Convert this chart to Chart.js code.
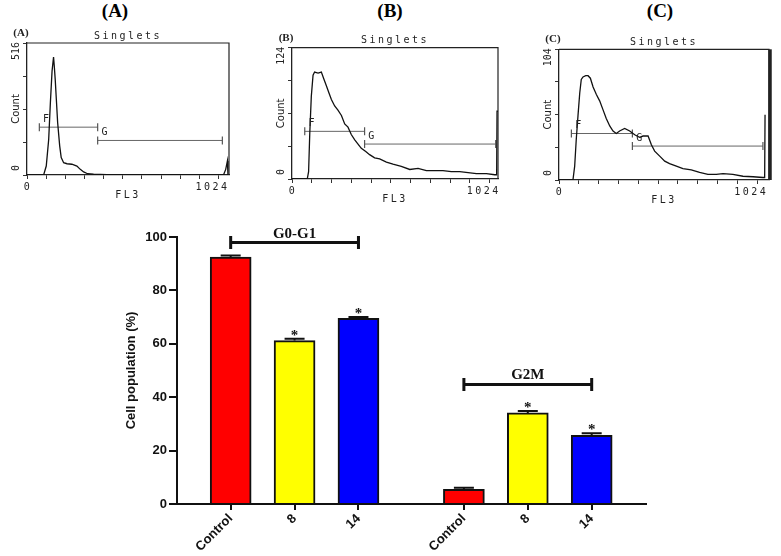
<!DOCTYPE html>
<html>
<head>
<meta charset="utf-8">
<script src="https://cdn.jsdelivr.net/npm/chart.js@4.4.1/dist/chart.umd.min.js"></script>
<style>
  body { margin: 0; background: #fff; width: 781px; height: 556px; position: relative; overflow: hidden; }
  .big { position: absolute; top: 0; font: bold 19px "Liberation Serif", serif; color: #000; transform: translateX(-50%); }
  canvas { position: absolute; }
</style>
</head>
<body>
<div class="big" style="left:115px">(A)</div>
<div class="big" style="left:390px">(B)</div>
<div class="big" style="left:660px">(C)</div>
<canvas id="histA"></canvas>
<canvas id="histB"></canvas>
<canvas id="histC"></canvas>
<canvas id="bars" width="540" height="336" style="left:120px;top:220px"></canvas>
<script>
// ---- histogram data (FL3 channel / count) ----
const histA_ch = [0, 89, 103, 116, 125, 134, 142, 146, 151, 157, 164, 175, 183, 196, 214, 240, 267, 285, 303, 324, 356, 427, 450, 1051, 1063, 1072, 1075];
const histA_count = [0, 0, 35, 139, 282, 406, 461, 425, 373, 295, 204, 113, 68, 48, 44, 42, 35, 22, 12, 5, 3, 1, 0, 0, 22, 55, 0];
const histB_ch = [0, 79, 86, 92, 100, 109, 117, 135, 152, 164, 178, 192, 204, 221, 238, 256, 273, 290, 307, 325, 342, 359, 382, 402, 428, 454, 489, 523, 566, 610, 653, 696, 739, 782, 825, 869, 912, 955, 1007, 1050, 1060, 1062, 1067];
const histB_count = [0, 0, 7, 43, 78, 98, 101, 100, 101, 95, 88, 81, 75, 69, 65, 60, 52, 49, 42, 37, 33, 29, 26, 23, 20, 19, 16, 14, 12, 9, 10, 8, 8, 8, 7, 7, 6, 5, 5, 4, 4, 64, 64];
const histC_ch = [0, 72, 81, 89, 98, 107, 115, 124, 138, 150, 162, 176, 193, 210, 227, 244, 262, 279, 296, 313, 339, 365, 391, 416, 434, 460, 477, 494, 520, 546, 571, 606, 640, 683, 726, 769, 812, 847, 898, 950, 1002, 1053, 1062, 1064, 1068];
const histC_count = [0, 0, 11, 32, 51, 69, 80, 82, 83, 83, 81, 74, 68, 63, 56, 49, 43, 39, 37, 39, 41, 39, 36, 34, 35, 35, 28, 23, 19, 15, 13, 11, 9, 8, 6, 4.5, 4.5, 5, 4.5, 3, 2.6, 2, 2, 52, 52];
// gates: [from channel, to channel, drawn at count]
const gatesA = [[66, 378, 187], [378, 1045, 135]];
const gatesB = [[66, 376, 45], [376, 1055, 33]];
const gatesC = [[64, 379, 37], [379, 1053, 27]];
const gateNames = ['F', 'G'];
const countMax = [516, 124, 104];
const fl3Ticks = [0, 102.4, 204.8, 307.2, 409.6, 512, 614.4, 716.8, 819.2, 921.6, 1024];

// ---- bar chart data ----
const categories = ['Control', '8', '14'];
const phases = ['G0-G1', 'G2M'];
const g0g1Mean = [92.5, 61.2, 69.5];
const g0g1Err = [0.6, 0.7, 0.5];
const g2mMean = [5.5, 34.1, 25.7];
const g2mErr = [0.6, 0.7, 0.8];
const starred = [false, true, true];
const bracketLevel = [97.9, 44.8];
const barColors = ['#ff0000', '#ffff00', '#0000ff'];

// text drawn round each histogram box
const histText = {
  id: 'histText',
  afterDraw(chart, args, o) {
    const { ctx, chartArea: a, scales: { x, y } } = chart;
    ctx.save();
    ctx.strokeStyle = '#222';
    ctx.lineWidth = 1.2;
    ctx.beginPath();
    ctx.moveTo(a.left, a.top); ctx.lineTo(a.right, a.top); ctx.lineTo(a.right, a.bottom);
    ctx.stroke();
    if (o.thickRight) { ctx.lineWidth = 3.5; ctx.beginPath(); ctx.moveTo(a.right + 1, a.top); ctx.lineTo(a.right + 1, a.bottom); ctx.stroke(); }
    ctx.fillStyle = '#222';
    ctx.textAlign = 'center'; ctx.textBaseline = 'middle';
    ctx.font = 'bold 11px "Liberation Serif"';
    ctx.fillText(o.panel, a.left - 6, a.top - 10);
    ctx.font = '10px "DejaVu Sans Mono"';
    ctx.letterSpacing = '2.5px';
    ctx.fillText('Singlets', (a.left + a.right) / 2, a.top - 7);
    ctx.fillText('0', a.left + 1, a.bottom + 12.5);
    ctx.fillText('1024', x.getPixelForValue(1024) - 6, a.bottom + 12.5);
    ctx.fillText('FL3', (a.left + a.right) / 2, a.bottom + 20);
    // gate names
    o.gates.forEach((g, i) => {
      ctx.fillText(gateNames[i], x.getPixelForValue(g[0]) + 8, y.getPixelForValue(g[2]) - 8);
    });
    // rotated count labels
    ctx.letterSpacing = '0px';
    const rot = (t, py, f) => {
      ctx.save(); ctx.translate(a.left - 11, py); ctx.rotate(-Math.PI / 2);
      ctx.font = f; ctx.fillText(t, 0, 0); ctx.restore();
    };
    rot(String(o.max), a.top + 8, '10px "DejaVu Sans Mono"');
    rot('Count', (a.top + a.bottom) / 2, '10px "DejaVu Sans"');
    rot('0', a.bottom - 7, '10px "DejaVu Sans Mono"');
    ctx.restore();
  }
};

function drawHist(id, box, tickSpacing, ch, counts, gates, max, panel, thickRight) {
  const cv = document.getElementById(id);
  const padL = 30, padT = box.top - 20, padB = 30;
  cv.width = padL + (box.right - box.left) + 15;
  cv.height = padT + (box.bottom - box.top) + padB;
  cv.style.left = (box.left - padL) + 'px';
  cv.style.top = '20px';
  const xMax = 102.4 * (box.right - box.left) / tickSpacing;
  const datasets = [{
    data: ch.map((c, i) => ({ x: c, y: counts[i] })),
    borderColor: '#111', borderWidth: 1.3, pointRadius: 0, tension: 0
  }];
  gates.forEach(g => datasets.push({
    data: [{ x: g[0], y: g[2] }, { x: g[1], y: g[2] }],
    borderColor: '#666', borderWidth: 1, pointStyle: 'line', pointRotation: 90,
    pointRadius: 4, pointBorderColor: '#555', pointBorderWidth: 1.2
  }));
  new Chart(cv, {
    type: 'line',
    data: { datasets },
    options: {
      responsive: false, animation: false,
      layout: { padding: { top: padT, right: 15, left: 0, bottom: 0 } },
      plugins: { legend: { display: false }, tooltip: { enabled: false }, histText: { panel, max, gates, thickRight } },
      scales: {
        x: {
          type: 'linear', min: 0, max: xMax,
          afterBuildTicks: s => { s.ticks = fl3Ticks.map(v => ({ value: v })); },
          afterFit: s => { s.height = padB; },
          ticks: { display: false },
          grid: { drawOnChartArea: false, tickLength: 4, color: '#333', lineWidth: 1 },
          border: { color: '#222', width: 1.3 }
        },
        y: {
          min: 0, max,
          afterBuildTicks: s => { s.ticks = [0, 0.25, 0.5, 0.75, 1].map(f => ({ value: f * max })); },
          afterFit: s => { s.width = padL; },
          ticks: { display: false },
          grid: { drawOnChartArea: false, tickLength: 4, color: '#333', lineWidth: 1 },
          border: { color: '#222', width: 1.3 }
        }
      }
    },
    plugins: [histText]
  });
}

drawHist('histA', { left: 26.7, top: 43, right: 229.3, bottom: 175.7 }, 19.2, histA_ch, histA_count, gatesA, countMax[0], '(A)', false);
drawHist('histB', { left: 292.3, top: 47.7, right: 498.3, bottom: 179 }, 19.77, histB_ch, histB_count, gatesB, countMax[1], '(B)', false);
drawHist('histC', { left: 559.3, top: 49.3, right: 769.3, bottom: 180.7 }, 19.83, histC_ch, histC_count, gatesC, countMax[2], '(C)', true);

// ---- bar chart ----
const groupStart = [0.84, 4.49];
const xEnd = 7.34;
const means = [g0g1Mean, g2mMean];
const errs = [g0g1Err, g2mErr];
const barPts = [], barFill = [], tickPos = [];
means.forEach((m, g) => m.forEach((v, i) => {
  barPts.push({ x: groupStart[g] + i, y: v });
  barFill.push(barColors[i]);
  tickPos.push(groupStart[g] + i);
}));

const annot = {
  id: 'annot',
  afterDatasetsDraw(chart) {
    const { ctx, scales: { x, y } } = chart;
    ctx.save();
    ctx.strokeStyle = '#111'; ctx.fillStyle = '#111';
    ctx.textAlign = 'center';
    means.forEach((m, g) => {
      m.forEach((v, i) => {
        const px = x.getPixelForValue(groupStart[g] + i);
        const top = y.getPixelForValue(v + errs[g][i]);
        ctx.lineWidth = 2;
        ctx.beginPath();
        ctx.moveTo(px, y.getPixelForValue(v)); ctx.lineTo(px, top);
        ctx.moveTo(px - 10, top); ctx.lineTo(px + 10, top);
        ctx.stroke();
        if (starred[i]) {
          ctx.font = 'bold 15px "Liberation Serif"';
          ctx.textBaseline = 'alphabetic';
          ctx.fillText('*', px, top + 1);
        }
      });
      const a = x.getPixelForValue(groupStart[g]);
      const b = x.getPixelForValue(groupStart[g] + 2);
      const by = y.getPixelForValue(bracketLevel[g]);
      ctx.lineWidth = 3;
      ctx.beginPath();
      ctx.moveTo(a, by); ctx.lineTo(b, by);
      ctx.moveTo(a, by - 6.5); ctx.lineTo(a, by + 6.5);
      ctx.moveTo(b, by - 6.5); ctx.lineTo(b, by + 6.5);
      ctx.stroke();
      ctx.font = 'bold 15px "Liberation Serif"';
      ctx.textBaseline = 'alphabetic';
      ctx.fillText(phases[g], (a + b) / 2, by - 5);
    });
    ctx.restore();
  }
};

new Chart(document.getElementById('bars'), {
  type: 'bar',
  data: {
    datasets: [{
      data: barPts,
      backgroundColor: barFill,
      borderColor: '#111',
      borderWidth: 2,
      barThickness: 41,
      borderSkipped: 'bottom'
    }]
  },
  options: {
    responsive: false, animation: false,
    layout: { padding: { top: 17, right: 14, left: 0, bottom: 0 } },
    plugins: { legend: { display: false }, tooltip: { enabled: false } },
    scales: {
      x: {
        type: 'linear', min: 0, max: xEnd, offset: false,
        afterBuildTicks: s => { s.ticks = tickPos.map(v => ({ value: v })); },
        afterFit: s => { s.height = 52; },
        ticks: {
          autoSkip: false, minRotation: 45, maxRotation: 45, padding: 1, color: '#111',
          font: { family: 'Liberation Sans', size: 13, weight: 'bold' },
          callback: (v, i) => categories[i % 3]
        },
        grid: { offset: false, drawOnChartArea: false, tickLength: 6, color: '#111', lineWidth: 2 },
        border: { color: '#111', width: 2 }
      },
      y: {
        min: 0, max: 100,
        afterFit: s => { s.width = 57; },
        ticks: { stepSize: 20, padding: 2, color: '#111', font: { family: 'Liberation Sans', size: 13, weight: 'bold' } },
        grid: { drawOnChartArea: false, tickLength: 8, color: '#111', lineWidth: 2 },
        border: { color: '#111', width: 2 },
        title: { display: true, text: 'Cell population (%)', color: '#111', padding: { top: 4, bottom: 0 }, font: { family: 'Liberation Sans', size: 13, weight: 'bold' } }
      }
    }
  },
  plugins: [annot]
});
</script>
</body>
</html>
